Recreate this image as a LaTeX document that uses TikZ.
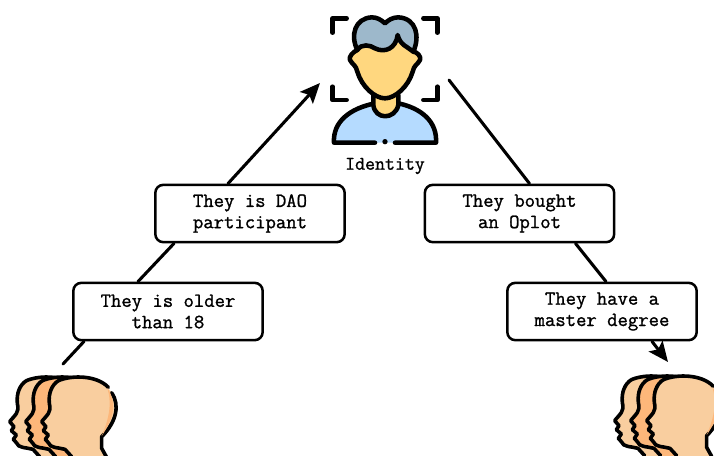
\documentclass[tikz,border=0pt]{standalone}
\usepackage{fontspec}
\newfontfamily\claimfont[FakeBold=1.2]{Latin Modern Mono}
\usetikzlibrary{
    arrows.meta
}
\definecolor{headlight}{HTML}{F9CE9F}
\definecolor{headdark}{HTML}{FDB77A}
\definecolor{hair}{HTML}{9DB8CB}
\definecolor{face}{HTML}{FFD77F}
\definecolor{shirt}{HTML}{B5DBFF}
\tikzset{
    pics/head/.style={code={
        \fill[#1] (175,62) .. controls (215,45) and (290,45) .. (325,85)
            .. controls (360,125) and (355,180) .. (305,230)
            -- (305,265) -- (320,300) -- (215,300) -- (195,268)
            .. controls (175,262) and (150,265) .. (145,248)
            -- (136,238) -- (145,225) -- (130,212) -- (138,200) -- (125,185)
            .. controls (140,165) and (155,160) .. (148,130)
            .. controls (145,100) and (155,75) .. (175,62) -- cycle;
        \draw[headline] (175,62) .. controls (215,45) and (290,45) .. (325,82);
        \draw[headline] (335,98) .. controls (360,135) and (350,185) .. (305,230)
            -- (305,265) -- (320,292);
        \draw[headline] (215,290) -- (195,268)
            .. controls (175,262) and (150,265) .. (145,248)
            -- (136,238) -- (145,225) -- (130,212) -- (138,200) -- (125,185)
            .. controls (140,165) and (155,160) .. (148,130)
            .. controls (145,100) and (155,75) .. (175,62);
    }},
    pics/crowd/.style={code={
        \pic at (-96,0) {head=headlight};
        \pic at (-48,0) {head=headdark};
        \pic at (0,0) {head=headlight};
        \fill[headdark] (322,84) .. controls (350,125) and (345,170) .. (305,228)
            .. controls (330,170) and (335,125) .. (322,84) -- cycle;
    }}
}
\begin{document}
\begin{tikzpicture}[x=0.75pt,y=-0.75pt,>={Stealth[length=15pt,width=13pt,inset=3pt]},line cap=round,line join=round]
    \tikzstyle{claim}=[draw, fill=white, rounded corners=6pt, line width=1.9pt, align=center,
        minimum width=142pt, minimum height=43pt, inner sep=0pt, font=\claimfont\fontsize{15.1}{16}\selectfont]
    \tikzstyle{headline}=[black, line width=2.7pt]
    \tikzstyle{icon}=[black, line width=3.4pt]
    \tikzstyle{link}=[line width=2.3pt]
    \useasboundingbox (0,0) rectangle (714,455);
    \clip (0,0) rectangle (714,455);
    % people
    \begin{scope}[shift={(0,360)},x=0.25pt,y=-0.25pt]
        \pic at (0,0) {crowd};
    \end{scope}
    \begin{scope}[shift={(605,359)},x=0.25pt,y=-0.25pt]
        \pic at (0,0) {crowd};
    \end{scope}
    % identity
    \begin{scope}[shift={(320,0)},x=0.25pt,y=-0.25pt]
        \draw[icon, fill=shirt] (165,428) -- (42,428) .. controls (38,365) and (90,325) .. (165,310)
            -- (235,310) .. controls (305,325) and (352,365) .. (348,428) -- (225,428);
        \fill (195,425) circle (8);
        \draw[icon, fill=face] (160,285) -- (160,315) .. controls (165,360) and (225,360) .. (235,315) -- (235,285);
        \fill[face] (112,130) rectangle (280,155);
        \draw[icon, fill=face] (112,150) .. controls (100,155) and (85,170) .. (90,180)
            .. controls (98,195) and (108,195) .. (112,215)
            .. controls (125,260) and (165,295) .. (195,295)
            .. controls (225,295) and (265,260) .. (278,215)
            .. controls (282,195) and (292,195) .. (300,180)
            .. controls (305,170) and (290,155) .. (280,155);
        \draw[icon, fill=hair] (112,150) .. controls (125,130) and (150,135) .. (165,145)
            .. controls (195,160) and (228,145) .. (233,105)
            .. controls (240,135) and (262,140) .. (280,155)
            .. controls (300,110) and (290,55) .. (235,52)
            .. controls (218,52) and (205,60) .. (195,70)
            .. controls (182,58) and (170,52) .. (155,52)
            .. controls (105,55) and (90,105) .. (112,150) -- cycle;
        \draw[icon] (38,98) -- (38,55) -- (80,55);
        \draw[icon] (310,55) -- (352,55) -- (352,98);
        \draw[icon] (38,260) -- (38,300) -- (80,300);
        \draw[icon] (310,300) -- (352,300) -- (352,260);
    \end{scope}
    \node[font=\claimfont\fontsize{14.5}{16}\selectfont] (identity) at (385,166) {Identity};
    \node[claim] (older) at (168,311.5) {They is older\\than 18};
    \node[claim] (dao) at (250,213.5) {They is DAO\\participant};
    \node[claim] (oplot) at (519.5,213.5) {They bought\\an Oplot};
    \node[claim] (master) at (602,311.5) {They have a\\master degree};
    \coordinate (crowdl) at (63,364);
    \coordinate (idl) at (320,83);
    \coordinate (idr) at (449,80);
    \coordinate (crowdr) at (668,362);
    \path (crowdl) edge [link] ([xshift=-63pt]older.south);
    \path ([xshift=-22.5pt]older.north) edge [link] ([xshift=-57pt]dao.south);
    \path ([xshift=-16.5pt]dao.north) edge [link, ->] (idl);
    \path (idr) edge [link] ([xshift=7.5pt]oplot.north);
    \path ([xshift=42pt]oplot.south) edge [link] ([xshift=3pt]master.north);
    \path ([xshift=37.5pt]master.south) edge [link, ->] (crowdr);
\end{tikzpicture}
\end{document}
